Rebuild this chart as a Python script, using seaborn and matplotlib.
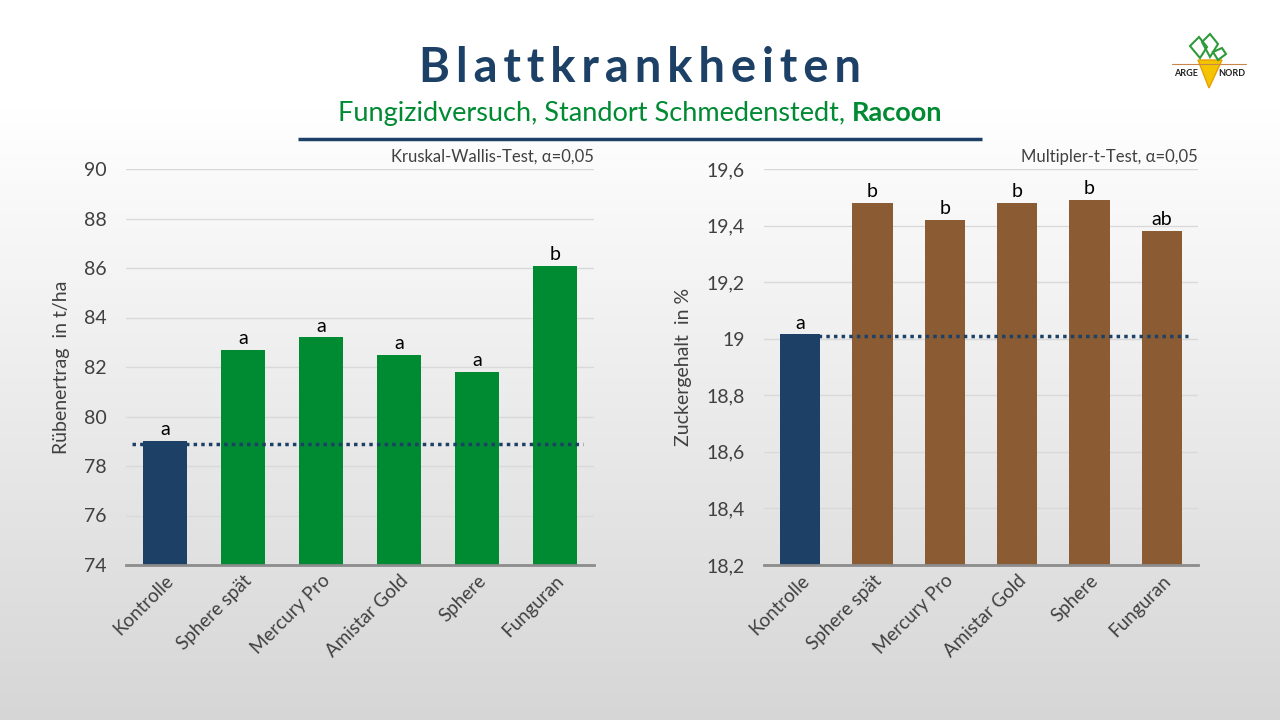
import numpy as np
import pandas as pd
import matplotlib.pyplot as plt
import seaborn as sns
from matplotlib.ticker import FuncFormatter
from matplotlib.patches import Polygon

# Data
varianten = ["Kontrolle", "Sphere spät", "Mercury Pro", "Amistar Gold", "Sphere", "Funguran"]
ertrag = [79.0, 82.7, 83.2, 82.5, 81.8, 86.1]
ertrag_gruppe = ["a", "a", "a", "a", "a", "b"]
ertrag_kontrolle = 78.9
zucker = [19.015, 19.48, 19.42, 19.48, 19.49, 19.38]
zucker_gruppe = ["a", "b", "b", "b", "b", "ab"]
zucker_kontrolle = 19.01

#Colours
dunkelblau = "#1d4166"
gruen = "#008a32"
braun = "#8b5c33"
textgrau = "#404040"

sns.set_style("white")
plt.rcParams["font.family"] = ["Lato", "DejaVu Sans"]

fig = plt.figure(figsize=(12.8, 7.2), dpi=100)

#Background gradient
bg = fig.add_axes([0, 0, 1, 1], zorder=-10)
grad = np.linspace(0, 1, 256).reshape(-1, 1)
grad = np.clip((grad - 0.15) / 0.85, 0, 1)
start = np.array([1.0, 1.0, 1.0])
end = np.array([0.84, 0.84, 0.84])
img = start + grad[:, :, None] * (end - start)
bg.imshow(img, aspect="auto", extent=[0, 1, 0, 1], origin="upper")
bg.set_xlim(0, 1)
bg.set_ylim(0, 1)
bg.axis("off")

#Titles
fig.text(0.5, 1 - 68 / 720, "\u2009".join("Blattkrankheiten"),
         ha="center", va="center", fontsize=34, fontweight="bold", color=dunkelblau)
split = 0.6655
fig.text(split, 1 - 113 / 720, "Fungizidversuch, Standort Schmedenstedt, ",
         ha="right", va="center", fontsize=19.5, color=gruen)
fig.text(split, 1 - 113 / 720, "Racoon",
         ha="left", va="center", fontsize=19.5, fontweight="bold", color=gruen)
bg.plot([298 / 1280, 982 / 1280], [1 - 139 / 720, 1 - 139 / 720],
        color=dunkelblau, lw=2.5, solid_capstyle="butt")

#Logo (simple sketch)
bg.add_patch(Polygon([[1198 / 1280, 1 - 60 / 720], [1222 / 1280, 1 - 60 / 720],
                      [1209 / 1280, 1 - 88 / 720]], closed=True, fc="#f5c400", ec="#e8a000"))
bg.add_patch(Polygon([[1190 / 1280, 1 - 46 / 720], [1199 / 1280, 1 - 37 / 720],
                      [1207 / 1280, 1 - 47 / 720], [1200 / 1280, 1 - 58 / 720]],
                     closed=True, fc="none", ec="#2e9b3a", lw=1.5))
bg.add_patch(Polygon([[1202 / 1280, 1 - 42 / 720], [1210 / 1280, 1 - 34 / 720],
                      [1218 / 1280, 1 - 44 / 720], [1210 / 1280, 1 - 57 / 720]],
                     closed=True, fc="none", ec="#2e9b3a", lw=1.5))
bg.add_patch(Polygon([[1213 / 1280, 1 - 52 / 720], [1222 / 1280, 1 - 48 / 720],
                      [1226 / 1280, 1 - 54 / 720], [1218 / 1280, 1 - 60 / 720]],
                     closed=True, fc="none", ec="#2e9b3a", lw=1.5))
bg.plot([1172 / 1280, 1246 / 1280], [1 - 64 / 720, 1 - 64 / 720], color="#c8864a", lw=0.8)
fig.text(1186 / 1280, 1 - 74 / 720, "ARGE", ha="center", va="center",
         fontsize=6.5, fontweight="bold", color="#222222")
fig.text(1232 / 1280, 1 - 74 / 720, "NORD", ha="center", va="center",
         fontsize=6.5, fontweight="bold", color="#222222")


def fmt_komma(v, pos):
    s = f"{v:.1f}".replace(".", ",")
    if s.endswith(",0"):
        s = s[:-2]
    return s


def plot_panel(box, werte, gruppen, farbe, kontrolle, ylim, step, ylabel, test, fmt, x0):
    ax = fig.add_axes(box)
    df = pd.DataFrame({"Variante": varianten, "Wert": werte})
    farben = [dunkelblau] + [farbe] * (len(varianten) - 1)
    sns.barplot(ax=ax, data=df, x="Variante", y="Wert", hue="Variante",
                palette=farben, width=0.56, legend=False, saturation=1, linewidth=0)
    ax.set_facecolor("none")
    ax.set_xlim(-0.5, len(varianten) - 0.5)
    ax.set_ylim(*ylim)
    ax.set_yticks(np.arange(ylim[0], ylim[1] + step / 2, step))
    ax.yaxis.set_major_formatter(FuncFormatter(fmt))
    ax.grid(axis="y", color="#d9d9d9", lw=1)
    ax.set_axisbelow(True)
    for s in ["top", "right", "left"]:
        ax.spines[s].set_visible(False)
    ax.spines["bottom"].set_color("#8c8c8c")
    ax.spines["bottom"].set_linewidth(2)
    ax.tick_params(axis="y", length=0, pad=14, labelsize=14, labelcolor=textgrau)
    ax.tick_params(axis="x", length=0, pad=5, labelsize=13.5, labelcolor=textgrau)
    plt.setp(ax.get_xticklabels(), rotation=45, ha="right", rotation_mode="anchor")
    ax.set_xlabel("")
    ax.set_ylabel(ylabel, fontsize=14, color=textgrau, labelpad=10)
    # Buchstaben über den Balken
    for i, (v, g) in enumerate(zip(werte, gruppen)):
        ax.annotate(g, (i, v), xytext=(0, 2), textcoords="offset points",
                    ha="center", va="bottom", fontsize=14, color="black")
    ax.hlines(kontrolle, x0, 5.36, colors=dunkelblau, linestyles=(0, (1, 1.2)), lw=2.5)
    ax.text(1.0, 1.0 + 12 / 396, test, transform=ax.transAxes, ha="right", va="center",
            fontsize=12, color=textgrau)
    return ax


ax1 = plot_panel([126 / 1280, 1 - 565 / 720, 468 / 1280, 396 / 720],
                 ertrag, ertrag_gruppe, gruen, ertrag_kontrolle, (74, 90), 2,
                 "Rübenertrag  in t/ha", "Kruskal-Wallis-Test, α=0,05",
                 lambda v, p: f"{v:.0f}", -0.42)
ax2 = plot_panel([764 / 1280, 1 - 565 / 720, 434 / 1280, 396 / 720],
                 zucker, zucker_gruppe, braun, zucker_kontrolle, (18.2, 19.6), 0.2,
                 "Zuckergehalt  in %", "Multipler-t-Test, α=0,05", fmt_komma, -0.28)

fig.savefig("out.png", dpi=100)
